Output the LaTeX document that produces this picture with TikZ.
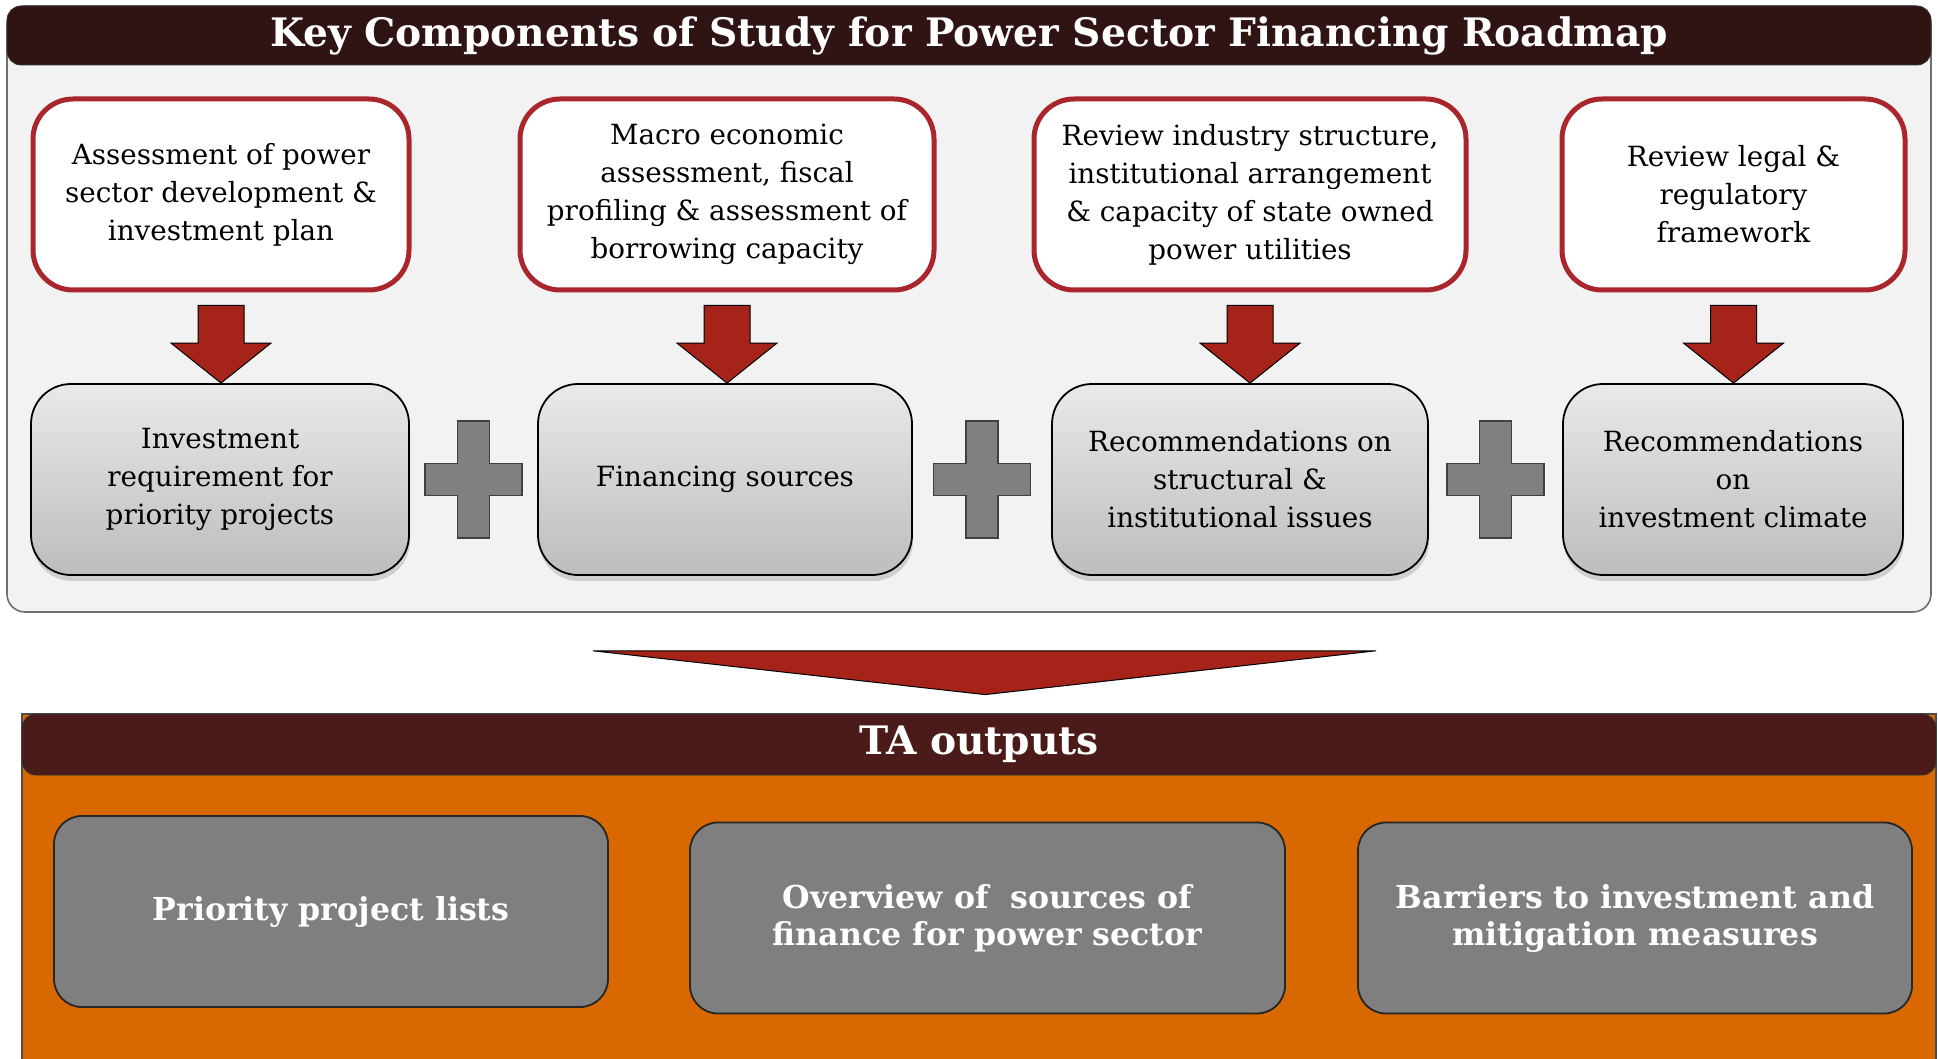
\documentclass[tikz,border=0pt]{standalone}
\usepackage{fontspec}
\setmainfont{DejaVu Serif}
\usetikzlibrary{calc,shadows}
\begin{document}
\begin{tikzpicture}[x=0.5pt, y=-0.5pt,
    every node/.style={align=center, font=\fontsize{13.9}{19}\selectfont},
    panel/.style={draw=panelline, fill=panelgray, rounded corners=9pt, line width=0.8pt},
    headbar/.style={fill=#1, draw=black!80, rounded corners=7pt, text=white, inner sep=0pt,
        font=\bfseries\fontsize{19.6}{23}\selectfont},
    taskbox/.style={draw=boxred, line width=2.5pt, fill=white, rounded corners=20pt,
        inner sep=0pt, minimum height=95.5pt},
    partbox/.style={draw=black, line width=0.9pt, rounded corners=20pt,
        top color=topgray, bottom color=bottomgray,
        drop shadow={shadow xshift=0.5pt, shadow yshift=-3pt, opacity=0.3},
        inner sep=0pt, minimum height=95.5pt},
    outbox/.style={draw=black!85, line width=0.9pt, fill=outgray, rounded corners=14pt,
        text=white, inner sep=0pt, minimum height=95.5pt,
        font=\bfseries\fontsize{15.8}{18.5}\selectfont},
    redarrow/.style={fill=arrowred, draw=black, line width=0.5pt},
    plusfill/.style={fill=plusgray, draw=black!75, line width=0.6pt}]
    \definecolor{barbrown}{HTML}{301414}
    \definecolor{barmaroon}{HTML}{4A1B19}
    \definecolor{panelgray}{HTML}{F2F2F2}
    \definecolor{panelline}{HTML}{6F6F6F}
    \definecolor{boxred}{HTML}{A9272C}
    \definecolor{arrowred}{HTML}{A6231A}
    \definecolor{topgray}{HTML}{E9E9E9}
    \definecolor{bottomgray}{HTML}{BDBDBD}
    \definecolor{plusgray}{HTML}{808080}
    \definecolor{outorange}{HTML}{D96800}
    \definecolor{outgray}{HTML}{7F7F7F}
    \def\blockdown#1#2{
        \draw[redarrow] ($(#1.south)+(-23,13)$) -- ($(#1.south)+(23,13)$)
            -- ($(#1.south |- #2.north)+(23,-40)$) -- ($(#1.south |- #2.north)+(50,-40)$)
            -- (#1.south |- #2.north)
            -- ($(#1.south |- #2.north)+(-50,-40)$) -- ($(#1.south |- #2.north)+(-23,-40)$) -- cycle;}
    \def\plussign#1{
        \draw[plusfill] ($(#1)+(-16,-58.5)$) -- ++(32,0) -- ++(0,42.5) -- ++(32.5,0) -- ++(0,32)
            -- ++(-32.5,0) -- ++(0,42.5) -- ++(-32,0) -- ++(0,-42.5) -- ++(-32.5,0) -- ++(0,-32)
            -- ++(32.5,0) -- cycle;}
    \useasboundingbox (0,0) rectangle (1938,1059);

    \node[panel, minimum width=962pt, minimum height=303pt] (keypanel) at (969,309) {};
    \node[headbar=barbrown, minimum width=962pt, minimum height=29.5pt] (keytitle) at (969,35.5)
        {Key Components of Study for Power Sector Financing Roadmap};

    \node[taskbox, minimum width=188pt] (task1) at (221,194.5)
        {Assessment of power\\ sector development \&\\ investment plan};
    \node[taskbox, minimum width=207pt] (task2) at (727,194.5)
        {Macro economic\\ assessment, fiscal\\ profiling \& assessment of\\ borrowing capacity};
    \node[taskbox, minimum width=216pt] (task3) at (1250,194.5)
        {Review industry structure,\\ institutional arrangement\\ \& capacity of state owned\\ power utilities};
    \node[taskbox, minimum width=171.5pt] (task4) at (1733.5,194.5)
        {Review legal \&\\ regulatory\\ framework};

    \node[partbox, minimum width=189pt] (part1) at (220,479.5)
        {Investment\\ requirement for\\ priority projects};
    \node[partbox, minimum width=187pt] (part2) at (725,479.5) {Financing sources};
    \node[partbox, minimum width=188pt] (part3) at (1240,479.5)
        {Recommendations on\\ structural \&\\ institutional issues};
    \node[partbox, minimum width=170pt] (part4) at (1733,479.5)
        {Recommendations\\ on\\ investment climate};

    \blockdown{task1}{part1}
    \blockdown{task2}{part2}
    \blockdown{task3}{part3}
    \blockdown{task4}{part4}

    \plussign{$(part1.east)!0.5!(part2.west)$}
    \plussign{$(part2.east)!0.5!(part3.west)$}
    \plussign{$(part3.east)!0.5!(part4.west)$}

    \node[fill=outorange, draw=black!70, line width=0.6pt, minimum width=957pt, minimum height=180pt] (outpanel) at (979,894) {};
    \node[headbar=barmaroon, minimum width=957pt, minimum height=30.5pt] (outtitle) at (979,744.5) {TA outputs};

    \draw[redarrow] ($(keypanel.south)+(-376,38)$) -- ($(keypanel.south)+(407,38)$)
        -- ($(outtitle.north)+(6,-19)$) -- cycle;

    \node[outbox, minimum width=277pt] (out1) at (331,911.5) {Priority project lists};
    \node[outbox, minimum width=297.5pt] (out2) at (987.5,918)
        {Overview of\ \ sources of\\ finance for power sector};
    \node[outbox, minimum width=277pt] (out3) at (1635,918)
        {Barriers to investment and\\ mitigation measures};
\end{tikzpicture}
\end{document}
